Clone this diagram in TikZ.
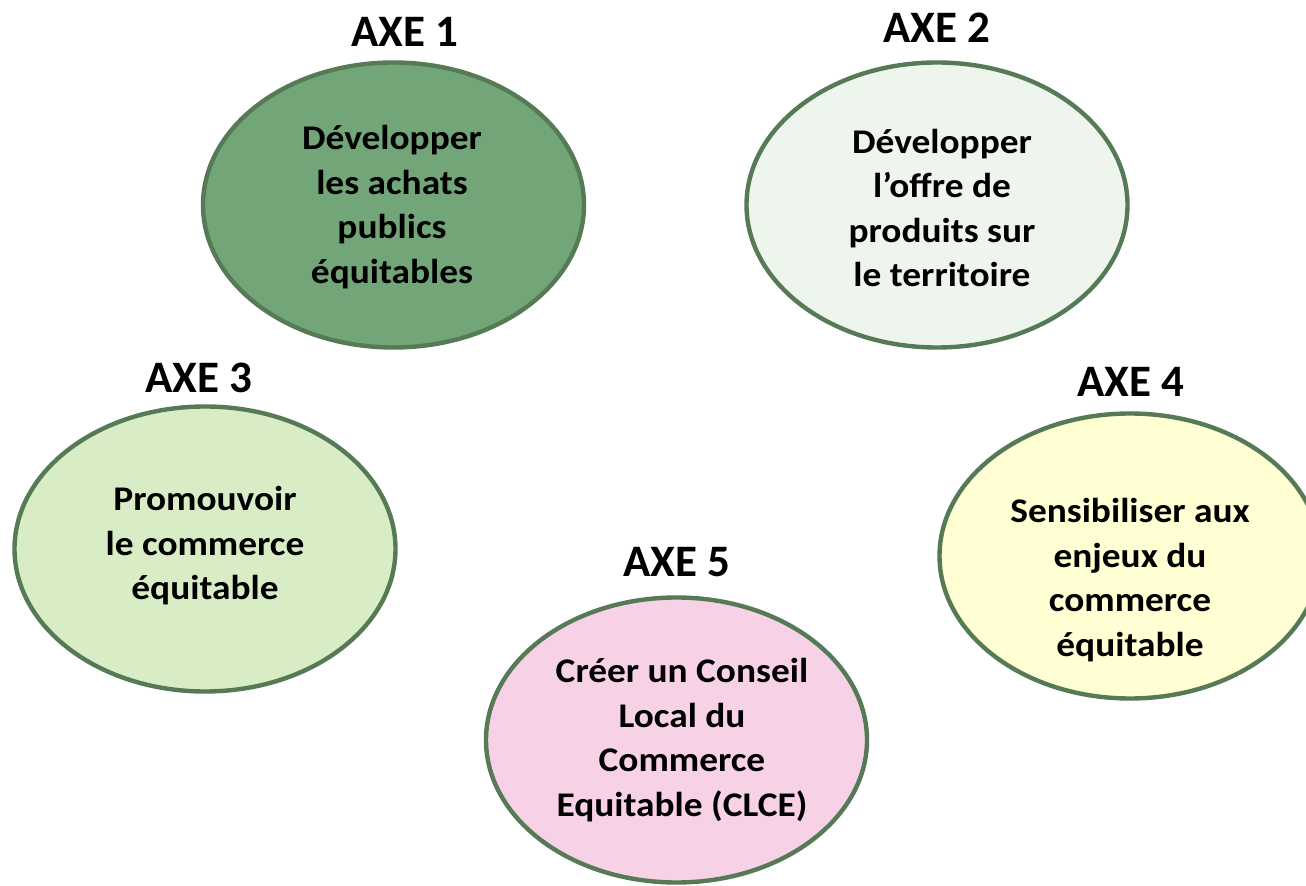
\documentclass[tikz,border=0pt]{standalone}
\usepackage{fontspec}
\setmainfont{Carlito}
\usetikzlibrary{shapes.geometric}
\definecolor{rim}{HTML}{557A55}
\definecolor{fillA}{HTML}{72A679}
\definecolor{fillB}{HTML}{EDF5EC}
\definecolor{fillC}{HTML}{D8EDC5}
\definecolor{fillD}{HTML}{FFFFD3}
\definecolor{fillE}{HTML}{F7D1E6}
\begin{document}
\begin{tikzpicture}[x=0.5pt,y=-0.5pt,
  axe/.style={ellipse, draw=rim, line width=2.2pt, minimum width=190.5pt, minimum height=142.5pt, inner sep=0pt},
  axelabel/.style={font=\fontsize{22.5}{27}\selectfont\bfseries, inner sep=0pt},
  body/.style={align=center, font=\fontsize{17.3}{22.25}\selectfont\bfseries, inner sep=0pt, xscale=1.08}]
\useasboundingbox (0,0) rectangle (1306,886);
\clip (0,0) rectangle (1306,886);
\fill[white] (0,0) rectangle (1306,886);

\node[axe, fill=fillA] (e1) at (393.5,205) {};
\node[axe, fill=fillB] (e2) at (937,205) {};
\node[axe, fill=fillC] (e3) at (205,549) {};
\node[axe, fill=fillD] (e4) at (1130,556) {};
\node[axe, fill=fillE] (e5) at (676.5,740) {};

\node[axelabel] (l1) at (405,32) {AXE 1};
\node[axelabel] (l2) at (937,28) {AXE 2};
\node[axelabel] (l3) at (199,378) {AXE 3};
\node[axelabel] (l4) at (1131,382) {AXE 4};
\node[axelabel] (l5) at (677,562) {AXE 5};

\node[body] (t1) at (392,207) {Développer\\les achats\\publics\\équitables};
\node[body] (t2) at (942,208) {Développer\\l’offre de\\produits sur\\le territoire};
\node[body] (t3) at (205,546) {Promouvoir\\le commerce\\équitable};
\node[body] (t4) at (1130,580) {Sensibiliser aux\\enjeux du\\commerce\\équitable};
\node[body] (t5) at (682,740) {Créer un Conseil\\Local du\\Commerce\\Equitable (CLCE)};
\end{tikzpicture}
\end{document}
